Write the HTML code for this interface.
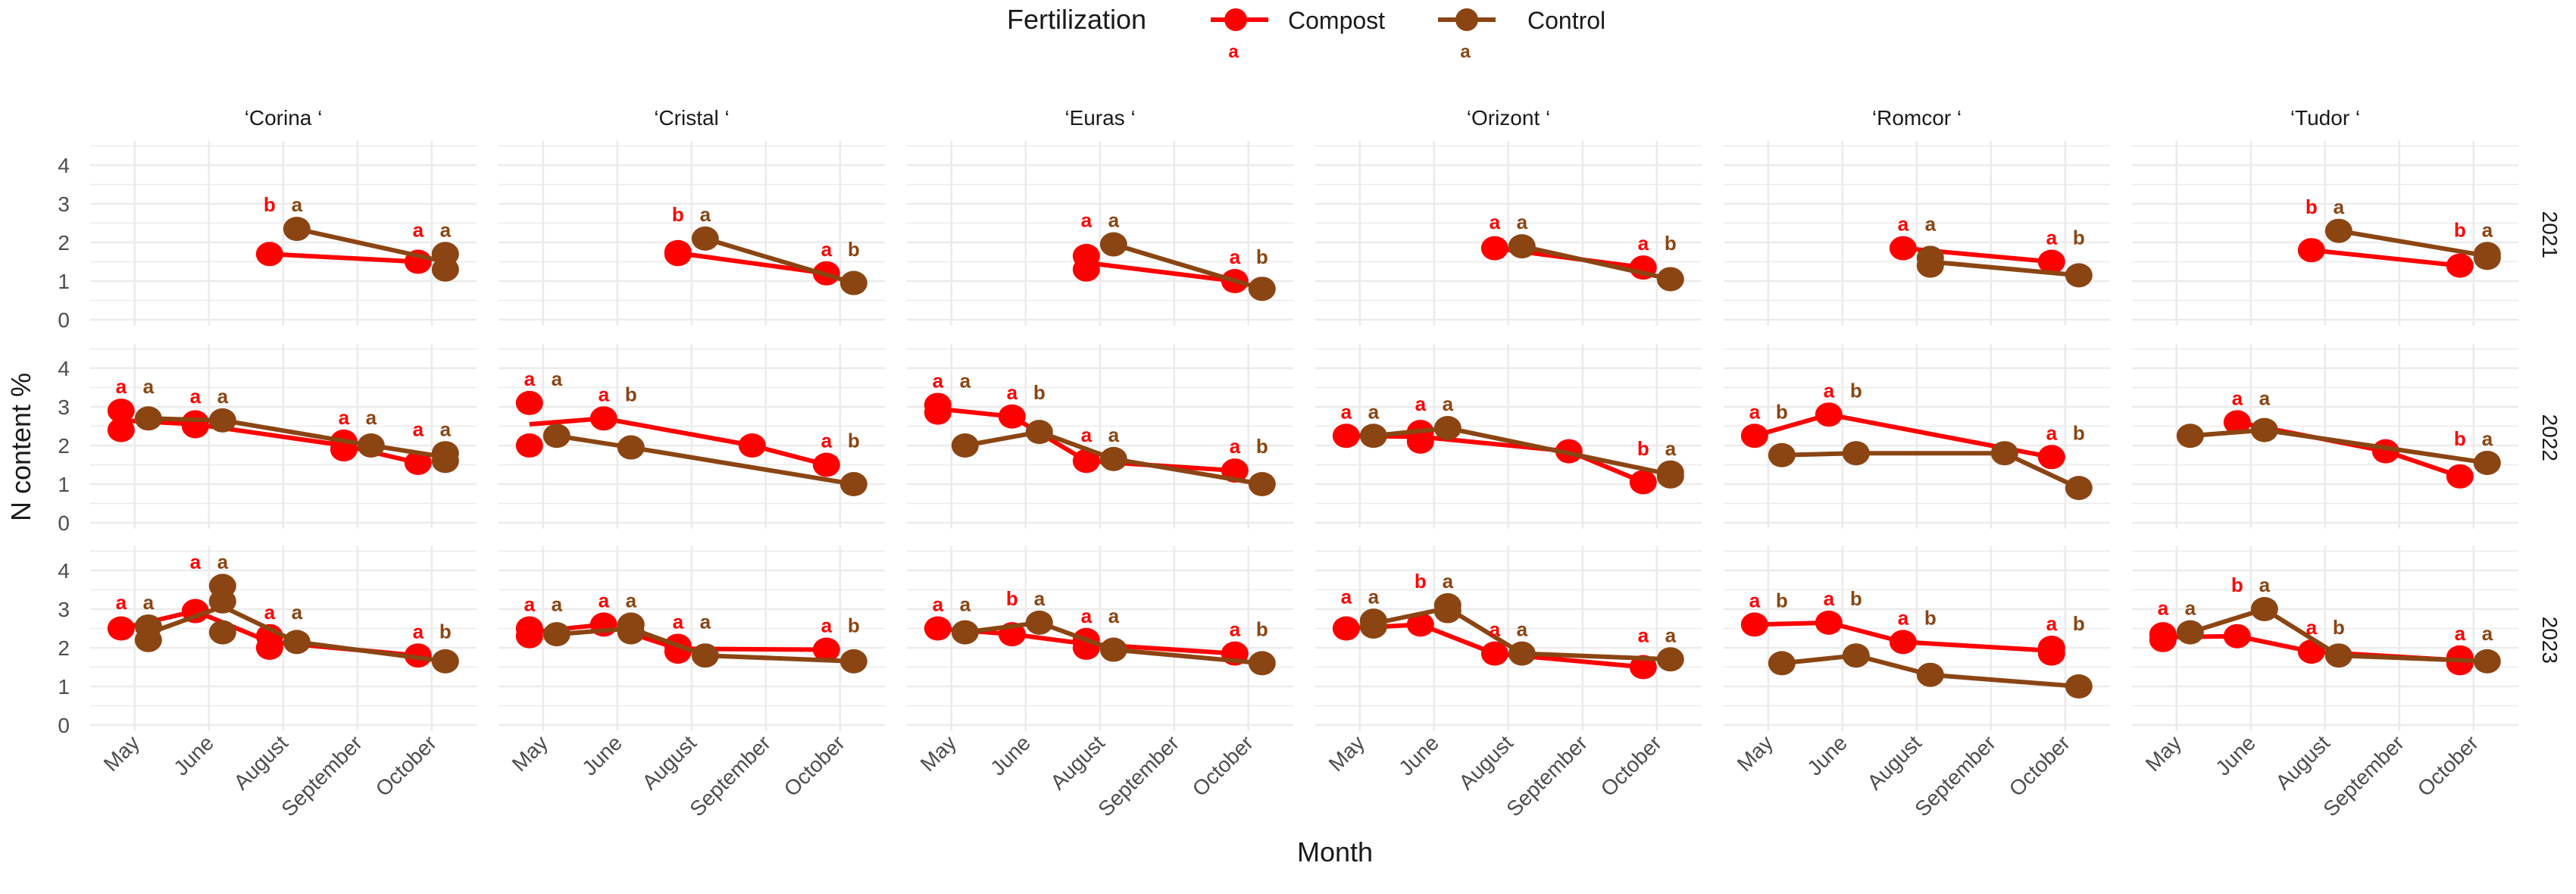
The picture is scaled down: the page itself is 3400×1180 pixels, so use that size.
<!DOCTYPE html>
<html><head><meta charset="utf-8"><style>
body{margin:0;background:#fff;}
svg text{font-family:"Liberation Sans",sans-serif;}
</style></head><body>
<svg id="chart" xmlns="http://www.w3.org/2000/svg" width="3400" height="1175" viewBox="0 0 3400 1175">
<g>
<text x="1329" y="38" font-size="36" fill="#1a1a1a">Fertilization</text>
<g>
<line x1="1598" y1="26" x2="1674" y2="26" stroke="#ff0000" stroke-width="6"/><circle cx="1631" cy="26" r="15" fill="#ff0000"/>
<text x="1700" y="38" font-size="32" fill="#1a1a1a">Compost</text>
<text x="1628" y="76" font-size="24" font-weight="bold" fill="#ff0000" text-anchor="middle">a</text></g>
<g>
<line x1="1898" y1="26" x2="1974" y2="26" stroke="#8b4513" stroke-width="6"/><circle cx="1936" cy="26" r="15" fill="#8b4513"/>
<text x="2016" y="38" font-size="32" fill="#1a1a1a">Control</text>
<text x="1934" y="76" font-size="24" font-weight="bold" fill="#8b4513" text-anchor="middle">a</text></g>
</g>
<text transform="translate(40,590) rotate(-90)" text-anchor="middle" font-size="36" fill="#1a1a1a">N content %</text>
<text x="1762" y="1137" text-anchor="middle" font-size="36" fill="#1a1a1a">Month</text>
<g id="plots"></g>
</svg>
<script>
const cultivars=["Corina","Cristal","Euras","Orizont","Romcor","Tudor"];
const years=["2021","2022","2023"];
const months=["May","June","August","September","October"];
const yTicks=[0,1,2,3,4];
const compost2021=[[[2,1.7],[4,1.5]],[[2,1.75],[2,1.7],[4,1.2]],[[2,1.65],[2,1.3],[4,1.0]],[[2,1.85],[4,1.35]],[[2,1.85],[4,1.5]],[[2,1.8],[4,1.4]]];
const control2021=[[[2,2.35],[4,1.7],[4,1.3]],[[2,2.1],[4,0.95]],[[2,1.95],[4,0.8]],[[2,1.9],[4,1.05]],[[2,1.6],[2,1.4],[4,1.15]],[[2,2.3],[4,1.7],[4,1.6]]];
const compost2022=[[[0,2.9],[0,2.4],[1,2.6],[1,2.5],[3,2.1],[3,1.9],[4,1.55]],[[0,3.1],[0,2.0],[1,2.7],[3,2.0],[4,1.5]],[[0,3.05],[0,2.85],[1,2.75],[2,1.6],[4,1.35]],[[0,2.25],[1,2.35],[1,2.1],[3,1.85],[4,1.05]],[[0,2.25],[1,2.8],[4,1.7]],[[1,2.6],[3,1.85],[4,1.2]]];
const control2022=[[[0,2.7],[1,2.65],[3,2.0],[4,1.8],[4,1.6]],[[0,2.25],[1,1.95],[4,1.0]],[[0,2.0],[1,2.35],[2,1.65],[4,1.0]],[[0,2.25],[1,2.45],[4,1.3],[4,1.2]],[[0,1.75],[1,1.8],[3,1.8],[4,0.9]],[[0,2.25],[1,2.4],[4,1.55]]];
const compost2023=[[[0,2.5],[1,2.95],[2,2.3],[2,2.0],[4,1.8]],[[0,2.5],[0,2.3],[1,2.6],[2,2.05],[2,1.9],[4,1.95]],[[0,2.5],[1,2.35],[2,2.2],[2,2.0],[4,1.85]],[[0,2.5],[1,2.6],[2,1.85],[4,1.5]],[[0,2.6],[1,2.65],[2,2.15],[4,2.0],[4,1.85]],[[0,2.35],[0,2.2],[1,2.3],[2,1.9],[4,1.75],[4,1.6]]];
const control2023=[[[0,2.55],[0,2.2],[1,3.6],[1,3.2],[1,2.4],[2,2.15],[4,1.65]],[[0,2.35],[1,2.6],[1,2.4],[2,1.8],[4,1.65]],[[0,2.4],[1,2.65],[2,1.95],[4,1.6]],[[0,2.7],[0,2.55],[1,3.1],[1,2.95],[2,1.85],[4,1.7]],[[0,1.6],[1,1.8],[2,1.3],[4,1.0]],[[0,2.4],[1,3.0],[2,1.8],[4,1.65]]];
const letters2021=[[[2,"b","a"],[4,"a","a"]],[[2,"b","a"],[4,"a","b"]],[[2,"a","a"],[4,"a","b"]],[[2,"a","a"],[4,"a","b"]],[[2,"a","a"],[4,"a","b"]],[[2,"b","a"],[4,"b","a"]]];
const letters2022=[[[0,"a","a"],[1,"a","a"],[3,"a","a"],[4,"a","a"]],[[0,"a","a"],[1,"a","b"],[4,"a","b"]],[[0,"a","a"],[1,"a","b"],[2,"a","a"],[4,"a","b"]],[[0,"a","a"],[1,"a","a"],[4,"b","a"]],[[0,"a","b"],[1,"a","b"],[4,"a","b"]],[[1,"a","a"],[4,"b","a"]]];
const letters2023=[[[0,"a","a"],[1,"a","a"],[2,"a","a"],[4,"a","b"]],[[0,"a","a"],[1,"a","a"],[2,"a","a"],[4,"a","b"]],[[0,"a","a"],[1,"b","a"],[2,"a","a"],[4,"a","b"]],[[0,"a","a"],[1,"b","a"],[2,"a","a"],[4,"a","a"]],[[0,"a","b"],[1,"a","b"],[2,"a","b"],[4,"a","b"]],[[0,"a","a"],[1,"b","a"],[2,"a","b"],[4,"a","a"]]];

const compostRows=[compost2021,compost2022,compost2023];
const controlRows=[control2021,control2022,control2023];
const letterRows=[letters2021,letters2022,letters2023];
const NS="http://www.w3.org/2000/svg";
const root=document.getElementById("plots");
const PL=119,PW=510,PSTEP=539,UNIT=98,DODGE=18;
const ZERO=[422,690,957],YU=51;
function mk(tag,attrs,parent){const e=document.createElementNS(NS,tag);for(const k in attrs)e.setAttribute(k,attrs[k]);parent.appendChild(e);return e;}
function xS(c,m,d){return PL+c*PSTEP+(m+0.6)*UNIT+d;}
function yS(r,v){return ZERO[r]-v*YU;}
const RED="#ff0000",BROWN="#8b4513";
for(let c=0;c<cultivars.length;c++){
  const s=mk("text",{x:PL+c*PSTEP+PW/2,y:165,"text-anchor":"middle","font-size":28,fill:"#1a1a1a"},root);
  
  
  s.textContent="\u2018"+cultivars[c]+"  \u2018";
}
for(let r=0;r<years.length;r++){
  const yt=mk("text",{transform:`translate(3356,${yS(r,2.2)}) rotate(90)`,"text-anchor":"middle","font-size":28,fill:"#1a1a1a"},root);
  
  
  yt.textContent=years[r];
  for(const t of yTicks){
    const tl=mk("text",{x:92,y:yS(r,t)+10,"text-anchor":"end","font-size":28,fill:"#4d4d4d"},root);
    
    
    tl.textContent=t;
  }
  for(let c=0;c<cultivars.length;c++){
    const g=mk("g",{},root);
    
    
    const x0=PL+c*PSTEP;
    for(let v=0;v<=4.5;v+=0.5){
      const major=Number.isInteger(v);
      const gl=mk("line",{x1:x0,x2:x0+PW,y1:yS(r,v),y2:yS(r,v),stroke:"#ebebeb","stroke-width":major?2.6:1.4},g);
      
      
    }
    for(let m=0;m<months.length;m++){
      const vl=mk("line",{x1:xS(c,m,0),x2:xS(c,m,0),y1:yS(r,4.63),y2:yS(r,-0.15),stroke:"#ebebeb","stroke-width":2.6},g);
      
      
    }
    const series=[[compostRows[r][c],RED,-DODGE,'compost'],[controlRows[r][c],BROWN,DODGE,'control']];
    for(const [pts,col,d,nm] of series){
      const byM={};
      for(const [m,v] of pts){(byM[m]=byM[m]||[]).push(v);}
      const ms=Object.keys(byM).map(Number).sort((a,b)=>a-b);
      const path=ms.map(m=>{const a=byM[m];return [xS(c,m,d),yS(r,a.reduce((p,q)=>p+q,0)/a.length)];});
      const ln=mk("polyline",{points:path.map(p=>p.join(",")).join(" "),fill:"none",stroke:col,"stroke-width":6,"stroke-linejoin":"round"},g);
      
      
      for(const [m,v] of pts){
        const pt=mk("ellipse",{cx:xS(c,m,d),cy:yS(r,v),rx:18,ry:16,fill:col},g);
        
        
      }
    }
    for(const [m,lc,lb] of letterRows[r][c]){
      const all=compostRows[r][c].concat(controlRows[r][c]).filter(p=>p[0]===m).map(p=>p[1]);
      const top=Math.max(...all)+0.45;
      const t1=mk("text",{x:xS(c,m,-DODGE),y:yS(r,top),"text-anchor":"middle","font-size":26,"font-weight":"bold",fill:RED},g);
      
      
      t1.textContent=lc;
      const t2=mk("text",{x:xS(c,m,DODGE),y:yS(r,top),"text-anchor":"middle","font-size":26,"font-weight":"bold",fill:BROWN},g);
      
      
      t2.textContent=lb;
    }
    if(r===2){
      for(let m=0;m<months.length;m++){
        const xl=mk("text",{transform:`translate(${xS(c,m,8)},${yS(r,-0.5)}) rotate(-45)`,"text-anchor":"end","font-size":28,fill:"#4d4d4d"},g);
        
        
        xl.textContent=months[m];
      }
    }
  }
}
</script>
</body></html>
